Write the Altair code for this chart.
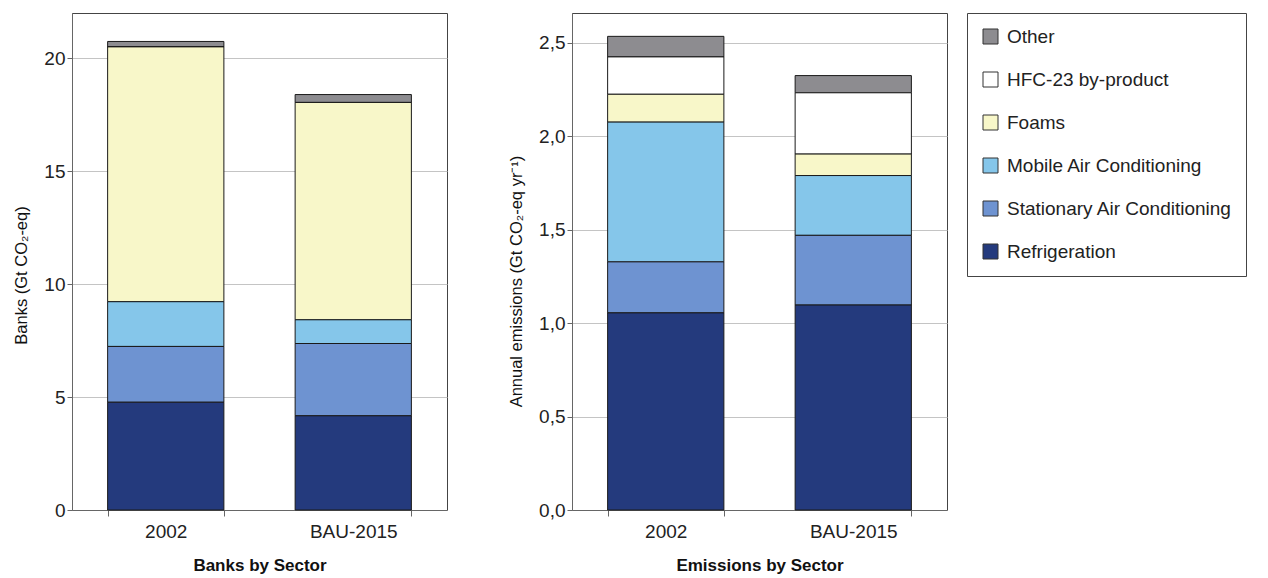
import altair as alt
import pandas as pd

categories = ["2002", "BAU-2015"]
sectors = ["Other", "HFC-23 by-product", "Foams", "Mobile Air Conditioning",
           "Stationary Air Conditioning", "Refrigeration"]
colors = ["#8d8c90", "#ffffff", "#f8f7c9", "#85c6ea", "#6e93d1", "#243a7d"]

# values per sector (same order as sectors), for 2002 and BAU-2015
banks_2002 = [0.24, 0.0, 11.28, 1.98, 2.47, 4.77]
banks_2015 = [0.35, 0.0, 9.62, 1.05, 3.20, 4.17]
emis_2002 = [0.11, 0.20, 0.149, 0.748, 0.273, 1.055]
emis_2015 = [0.092, 0.328, 0.115, 0.32, 0.373, 1.097]

stack_rank = [5, 4, 3, 2, 1, 0]


def make_df(v2002, v2015):
    rows = []
    for cat, vals in zip(categories, [v2002, v2015]):
        for s, v, r in zip(sectors, vals, stack_rank):
            rows.append({"cat": cat, "sector": s, "value": v, "rank": r})
    return pd.DataFrame(rows)


banks_df = make_df(banks_2002, banks_2015)
emis_df = make_df(emis_2002, emis_2015)

color_scale = alt.Scale(domain=sectors, range=colors)
x_scale = alt.Scale(domain=categories, paddingInner=0.38, paddingOuter=0.19)


def panel(df, ytitle, xtitle, ydomain, yvalues, title_y, label_expr=None):
    yaxis_kwargs = dict(
        title=ytitle, values=yvalues, grid=True, tickSize=5, labelPadding=2,
        titlePadding=14, titleY=title_y,
    )
    if label_expr:
        yaxis_kwargs["labelExpr"] = label_expr
    return alt.Chart(df).mark_bar(stroke="#1a1a1a", strokeWidth=1).encode(
        x=alt.X("cat:N", scale=x_scale, sort=categories,
                axis=alt.Axis(title=xtitle, labelAngle=0, tickBand="extent",
                              tickSize=6, labelPadding=6, titlePadding=16,
                              titleFontWeight="bold", titleFontSize=17,
                              grid=False)),
        y=alt.Y("value:Q", stack="zero",
                scale=alt.Scale(domain=ydomain, nice=False),
                axis=alt.Axis(**yaxis_kwargs)),
        color=alt.Color("sector:N", scale=color_scale,
                        legend=alt.Legend(title=None)),
        order=alt.Order("rank:Q", sort="ascending"),
    ).properties(width=375, height=497)


left = panel(banks_df, "Banks (Gt CO₂-eq)", "Banks by Sector", [0, 22],
             [0, 5, 10, 15, 20], 262)
right = panel(emis_df, "Annual emissions (Gt CO₂-eq yr⁻¹)", "Emissions by Sector",
              [0, 2.66], [0, 0.5, 1.0, 1.5, 2.0, 2.5], 268,
              label_expr="replace(format(datum.value, '.1f'), '.', ',')")

chart = alt.hconcat(left, right, spacing=60).properties(
    padding={"left": 13, "top": 12, "right": 5, "bottom": 5},
    background="#ffffff",
).configure_view(
    stroke="#444444", strokeWidth=1
).configure_axis(
    labelFont="Liberation Sans", titleFont="Liberation Sans",
    labelFontSize=19, titleFontSize=16.5, titleFontWeight="normal",
    labelColor="#222222", titleColor="#111111",
    domainColor="#666666", tickColor="#666666", gridColor="#c4c4c4",
).configure_legend(
    orient="right", offset=19, padding=14, strokeColor="#444444",
    symbolType="square", symbolSize=225, symbolStrokeColor="#333333",
    symbolStrokeWidth=1, labelFont="Liberation Sans", labelFontSize=19,
    labelColor="#222222", labelLimit=320, rowPadding=23, labelOffset=7,
    cornerRadius=0,
)

chart.save("out.html", embed_options={"renderer": "svg", "actions": False})
